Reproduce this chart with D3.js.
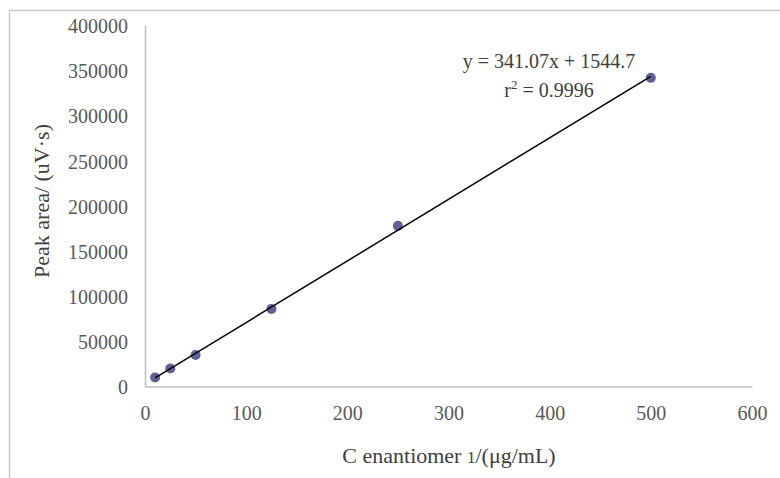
<!DOCTYPE html>
<html>
<head>
<meta charset="utf-8">
<script src="https://cdn.jsdelivr.net/npm/d3@7"></script>
<style>
  html, body { margin: 0; padding: 0; background: #fff; }
  svg { display: block; font-family: "Liberation Serif", "Times New Roman", serif; }
  .axis text { fill: #595959; font-size: 20px; }
  .axis path { stroke: #bfbfbf; stroke-width: 1.5; }
</style>
</head>
<body>
<svg id="chart" width="780" height="478"></svg>
<script>
  // concentration (µg/mL) vs peak area
  var concentrations = [10, 25, 50, 125, 250, 500];
  var peakAreas = [10000, 20000, 35000, 86000, 178000, 342000];
  var xTicks = [0, 100, 200, 300, 400, 500, 600];
  var yTicks = [0, 50000, 100000, 150000, 200000, 250000, 300000, 350000, 400000];
  var equationLines = ['y = 341.07x + 1544.7', 'r', '2', ' = 0.9996'];

  var svg = d3.select('#chart');

  // outer chart border (top and left only visible in the crop)
  svg.append('path')
    .attr('d', 'M9.5,478 L9.5,10.5 L780,10.5')
    .attr('fill', 'none')
    .attr('stroke', '#c8c8c8')
    .attr('stroke-width', 1.5);

  var x = d3.scaleLinear().domain([0, 600]).range([145, 752]);
  var y = d3.scaleLinear().domain([0, 400000]).range([386.5, 25.5]);

  svg.append('g')
    .attr('class', 'axis')
    .attr('transform', 'translate(0,' + y(0) + ')')
    .call(d3.axisBottom(x).tickValues(xTicks).tickSize(0).tickPadding(19).tickFormat(d3.format('d')));

  svg.append('g')
    .attr('class', 'axis')
    .attr('transform', 'translate(' + x(0) + ',0)')
    .call(d3.axisLeft(y).tickValues(yTicks).tickSize(0).tickPadding(17).tickFormat(d3.format('d')))
    .call(function (g) { g.selectAll('text').attr('dy', '0.36em'); });

  // let the stylesheet pick the serif font instead of d3's sans-serif default
  svg.selectAll('.axis').attr('font-size', null).attr('font-family', null);

  // least-squares trendline through the data
  var mx = d3.mean(concentrations), my = d3.mean(peakAreas);
  var sxy = d3.sum(concentrations, function (v, i) { return (v - mx) * (peakAreas[i] - my); });
  var sxx = d3.sum(concentrations, function (v) { return (v - mx) * (v - mx); });
  var slope = sxy / sxx, intercept = my - slope * mx;
  var x0 = d3.min(concentrations), x1 = d3.max(concentrations);

  svg.selectAll('circle.pt')
    .data(concentrations)
    .enter().append('circle')
    .attr('class', 'pt')
    .attr('cx', function (d) { return x(d); })
    .attr('cy', function (d, i) { return y(peakAreas[i]); })
    .attr('r', 5)
    .attr('fill', '#5f5f99');

  svg.append('line')
    .attr('x1', x(x0)).attr('y1', y(slope * x0 + intercept))
    .attr('x2', x(x1)).attr('y2', y(slope * x1 + intercept))
    .attr('stroke', '#000')
    .attr('stroke-width', 1.5);

  // equation label
  svg.append('text')
    .attr('x', 549).attr('y', 68)
    .attr('text-anchor', 'middle')
    .attr('font-size', 20)
    .attr('fill', '#404040')
    .text(equationLines[0]);

  var r2 = svg.append('text')
    .attr('x', 549).attr('y', 97)
    .attr('text-anchor', 'middle')
    .attr('font-size', 20)
    .attr('fill', '#404040');
  r2.append('tspan').text(equationLines[1]);
  r2.append('tspan').attr('font-size', 13).attr('dy', -8).text(equationLines[2]);
  r2.append('tspan').attr('dy', 8).text(equationLines[3]);

  // axis titles
  var xt = svg.append('text')
    .attr('x', 449).attr('y', 463)
    .attr('text-anchor', 'middle')
    .attr('font-size', 22)
    .attr('fill', '#404040');
  xt.append('tspan').text('C enantiomer ');
  xt.append('tspan').attr('font-size', 17).text('1');
  xt.append('tspan').text('/(μg/mL)');

  svg.append('text')
    .attr('transform', 'translate(49,201) rotate(-90)')
    .attr('text-anchor', 'middle')
    .attr('font-size', 22)
    .attr('fill', '#404040')
    .text('Peak area/ (uV·s)');
</script>
</body>
</html>
